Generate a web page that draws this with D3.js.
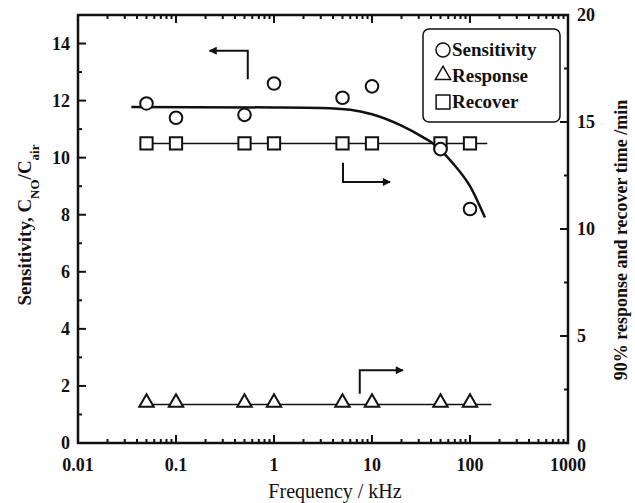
<!DOCTYPE html>
<html>
<head>
<meta charset="utf-8">
<script src="https://d3js.org/d3.v7.min.js"></script>
<style>
  body { margin: 0; background: #fff; }
  text { font-family: "Liberation Serif", "DejaVu Serif", serif; fill: #111; }
</style>
</head>
<body>
<div id="chart"></div>
<script>
// measured data (frequency in kHz)
const freq = [0.05, 0.1, 0.5, 1, 5, 10, 50, 100];
const sensitivity = [11.9, 11.4, 11.5, 12.6, 12.1, 12.5, 10.3, 8.2];
const response = [1.8, 1.8, 1.8, 1.8, 1.8, 1.8, 1.8, 1.8];
const recover = [14, 14, 14, 14, 14, 14, 14, 14];

// fitted sensitivity curve
const fitFreq = [0.035, 1, 3, 6, 10, 20, 33, 42, 67, 100, 142];
const fitSens = [11.78, 11.76, 11.74, 11.68, 11.52, 11.12, 10.72, 10.5, 9.8, 9.0, 7.9];

// straight fit lines for response / recover (x extents)
const respLineX = [0.045, 165];
const recLineX = [0.045, 150];

const xTicks = [0.01, 0.1, 1, 10, 100, 1000];
const xTickLabels = ["0.01", "0.1", "1", "10", "100", "1000"];
const yLeftTicks = [0, 2, 4, 6, 8, 10, 12, 14];
const yRightTicks = [0, 5, 10, 15, 20];

const width = 635, height = 503;
const margin = { top: 15, right: 67, bottom: 60, left: 78 };

const svg = d3.select("#chart").append("svg")
  .attr("width", width)
  .attr("height", height);

const x = d3.scaleLog().domain([0.01, 1000]).range([margin.left, width - margin.right]);
const yL = d3.scaleLinear().domain([0, 15]).range([height - margin.bottom, margin.top]);
const yR = d3.scaleLinear().domain([0, 20]).range([height - margin.bottom, margin.top]);

const x0 = margin.left, x1 = width - margin.right;
const y0 = height - margin.bottom, y1 = margin.top;

// minor log ticks
const minorX = [];
for (let d = 0.01; d < 1000; d *= 10) {
  for (let k = 2; k <= 9; k++) minorX.push(d * k);
}

const g = svg.append("g");

// ticks (all pointing inward)
function tick(x1_, y1_, x2_, y2_) {
  g.append("line").attr("x1", x1_).attr("y1", y1_).attr("x2", x2_).attr("y2", y2_)
    .attr("stroke", "#111").attr("stroke-width", 2);
}
xTicks.forEach(v => { tick(x(v), y0, x(v), y0 - 8); tick(x(v), y1, x(v), y1 + 8); });
minorX.forEach(v => { tick(x(v), y0, x(v), y0 - 4); tick(x(v), y1, x(v), y1 + 4); });
d3.range(0, 15.1, 1).forEach(v => tick(x0, yL(v), x0 + (v % 2 === 0 ? 8 : 4), yL(v)));
d3.range(0, 20.1, 2.5).forEach(v => tick(x1, yR(v), x1 - (v % 5 === 0 ? 8 : 4), yR(v)));

// frame
g.append("rect").attr("x", x0).attr("y", y1).attr("width", x1 - x0).attr("height", y0 - y1)
  .attr("fill", "none").attr("stroke", "#111").attr("stroke-width", 2.5);

// tick labels
g.selectAll(".xl").data(xTicks).enter().append("text")
  .attr("x", d => x(d)).attr("y", y0 + 28)
  .attr("text-anchor", "middle").attr("font-size", 18).attr("font-weight", "bold")
  .text((d, i) => xTickLabels[i]);
g.selectAll(".yl").data(yLeftTicks).enter().append("text")
  .attr("x", x0 - 8).attr("y", d => yL(d) + 6)
  .attr("text-anchor", "end").attr("font-size", 18).attr("font-weight", "bold")
  .text(d => d);
g.selectAll(".yr").data(yRightTicks).enter().append("text")
  .attr("x", x1 + 9).attr("y", d => yR(d) + (d === 0 ? 9 : 6))
  .attr("text-anchor", "start").attr("font-size", 18).attr("font-weight", "bold")
  .text(d => d);

// axis titles
g.append("text").attr("x", 335).attr("y", 498)
  .attr("text-anchor", "middle").attr("font-size", 20)
  .text("Frequency / kHz");

const lt = g.append("text")
  .attr("transform", "translate(31,225) rotate(-90)")
  .attr("text-anchor", "middle").attr("font-size", 19).attr("font-weight", "bold");
lt.append("tspan").text("Sensitivity, C");
lt.append("tspan").attr("baseline-shift", "sub").attr("font-size", 13).text("NO");
lt.append("tspan").text("/C");
lt.append("tspan").attr("baseline-shift", "sub").attr("font-size", 13).text("air");

g.append("text")
  .attr("transform", "translate(627,240) rotate(-90)")
  .attr("text-anchor", "middle").attr("font-size", 18).attr("font-weight", "bold")
  .text("90% response and recover time /min");

// fit lines
const fitLine = d3.line().x(d => x(d[0])).y(d => yL(d[1])).curve(d3.curveMonotoneX);
g.append("path").datum(fitFreq.map((f, i) => [f, fitSens[i]]))
  .attr("d", fitLine).attr("fill", "none").attr("stroke", "#111").attr("stroke-width", 2.5);

const rLine = d3.line().x(d => x(d[0])).y(d => yR(d[1]));
g.append("path").datum(respLineX.map(f => [f, d3.mean(response)]))
  .attr("d", rLine).attr("fill", "none").attr("stroke", "#111").attr("stroke-width", 1.5);
g.append("path").datum(recLineX.map(f => [f, d3.mean(recover)]))
  .attr("d", rLine).attr("fill", "none").attr("stroke", "#111").attr("stroke-width", 1.5);

// markers
const sym = (type, size) => d3.symbol().type(type).size(size)();
g.selectAll(".sq").data(freq).enter().append("path")
  .attr("transform", (d, i) => "translate(" + x(d) + "," + yR(recover[i]) + ")")
  .attr("d", sym(d3.symbolSquare, 150))
  .attr("fill", "#fff").attr("stroke", "#111").attr("stroke-width", 2);
g.selectAll(".tr").data(freq).enter().append("path")
  .attr("transform", (d, i) => "translate(" + x(d) + "," + (yR(response[i]) - 2) + ")")
  .attr("d", sym(d3.symbolTriangle, 90))
  .attr("fill", "#fff").attr("stroke", "#111").attr("stroke-width", 2);
g.selectAll(".ci").data(freq).enter().append("circle")
  .attr("cx", d => x(d)).attr("cy", (d, i) => yL(sensitivity[i])).attr("r", 6.3)
  .attr("fill", "#fff").attr("stroke", "#111").attr("stroke-width", 2);

// annotation arrows: [start, corner, tip] in data units, and the axis they belong to
svg.append("defs").append("marker")
  .attr("id", "ah").attr("viewBox", "0 0 10 10").attr("refX", 9).attr("refY", 5)
  .attr("markerWidth", 13).attr("markerHeight", 8).attr("markerUnits", "userSpaceOnUse")
  .attr("orient", "auto")
  .append("path").attr("d", "M0,0 L10,5 L0,10 z").attr("fill", "#111");

const arrows = [
  { y: yL, pts: [[0.54, 12.75], [0.54, 13.75], [0.22, 13.75]] },
  { y: yR, pts: [[5.06, 13.1], [5.06, 12.2], [15.3, 12.2]] },
  { y: yR, pts: [[7.5, 2.3], [7.5, 3.4], [20.7, 3.4]] }
];
arrows.forEach(a => {
  g.append("path")
    .attr("d", d3.line().x(d => x(d[0])).y(d => a.y(d[1]))(a.pts))
    .attr("fill", "none").attr("stroke", "#111").attr("stroke-width", 2)
    .attr("marker-end", "url(#ah)");
});

// legend
const lg = g.append("g");
lg.append("rect").attr("x", 423).attr("y", 29).attr("width", 137).attr("height", 93)
  .attr("rx", 6).attr("fill", "#fff").attr("stroke", "#111").attr("stroke-width", 1.5);
const legend = [
  { label: "Sensitivity", type: "circle" },
  { label: "Response", type: "triangle" },
  { label: "Recover", type: "square" }
];
legend.forEach((d, i) => {
  const cy = 50 + i * 26;
  if (d.type === "circle") {
    lg.append("circle").attr("cx", 443).attr("cy", cy).attr("r", 7)
      .attr("fill", "none").attr("stroke", "#111").attr("stroke-width", 1.5);
  } else if (d.type === "triangle") {
    lg.append("path").attr("transform", "translate(443," + (cy - 1) + ")")
      .attr("d", sym(d3.symbolTriangle, 100))
      .attr("fill", "none").attr("stroke", "#111").attr("stroke-width", 1.5);
  } else {
    lg.append("path").attr("transform", "translate(443," + cy + ")")
      .attr("d", sym(d3.symbolSquare, 190))
      .attr("fill", "none").attr("stroke", "#111").attr("stroke-width", 1.5);
  }
  lg.append("text").attr("x", 452).attr("y", cy + 6)
    .attr("font-size", 19).attr("font-weight", "bold").text(d.label);
});
</script>
</body>
</html>
